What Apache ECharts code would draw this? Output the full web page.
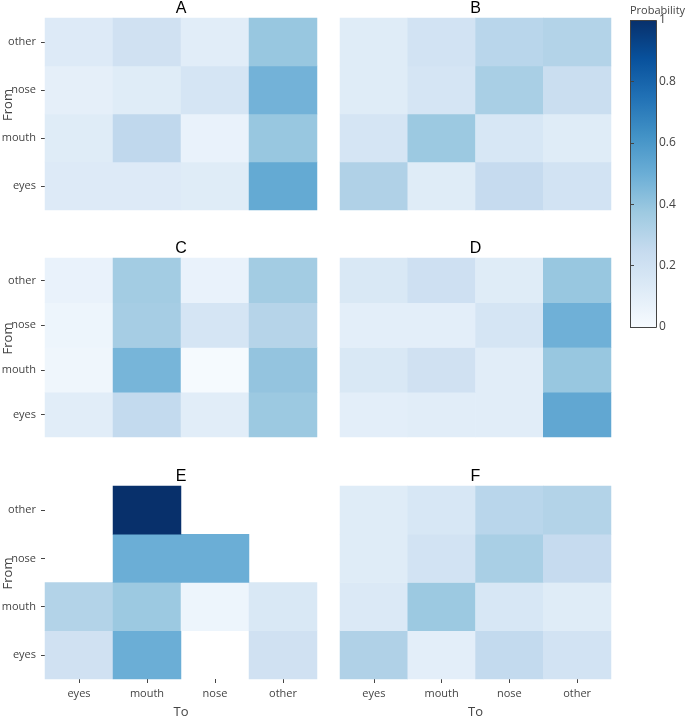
<!DOCTYPE html>
<html>
<head>
<meta charset="utf-8">
<script src="https://cdn.jsdelivr.net/npm/echarts@6/dist/echarts.min.js"></script>
<style>html,body{margin:0;padding:0;background:#fff}#c{width:685px;height:718px}</style>
</head>
<body>
<div id="c"></div>
<script>
// Categories
const toCats = ['eyes', 'mouth', 'nose', 'other'];
const fromCats = ['eyes', 'mouth', 'nose', 'other'];
const panelNames = ['A', 'B', 'C', 'D', 'E', 'F'];
const colorTicks = [0, 0.2, 0.4, 0.6, 0.8, 1];

// Rows = From (eyes, mouth, nose, other); columns = To (eyes, mouth, nose, other)
const panelA = [
  [0.13, 0.13, 0.12, 0.52],
  [0.12, 0.27, 0.07, 0.39],
  [0.09, 0.12, 0.17, 0.48],
  [0.13, 0.20, 0.11, 0.39]
];
const panelB = [
  [0.32, 0.12, 0.25, 0.19],
  [0.17, 0.38, 0.16, 0.12],
  [0.12, 0.17, 0.34, 0.23],
  [0.12, 0.19, 0.29, 0.31]
];
const panelC = [
  [0.11, 0.26, 0.11, 0.38],
  [0.04, 0.47, 0.01, 0.40],
  [0.05, 0.35, 0.17, 0.30],
  [0.07, 0.36, 0.07, 0.36]
];
const panelD = [
  [0.10, 0.11, 0.11, 0.53],
  [0.15, 0.20, 0.11, 0.39],
  [0.10, 0.10, 0.17, 0.49],
  [0.15, 0.21, 0.12, 0.39]
];
const panelE = [
  [0.20, 0.50, null, 0.20],
  [0.31, 0.38, 0.05, 0.15],
  [null, 0.50, 0.50, null],
  [null, 1.00, null, null]
];
const panelF = [
  [0.32, 0.10, 0.26, 0.19],
  [0.14, 0.38, 0.16, 0.12],
  [0.12, 0.19, 0.34, 0.25],
  [0.12, 0.16, 0.29, 0.31]
];
const panels = [panelA, panelB, panelC, panelD, panelE, panelF];

const blues = ['#f7fbff', '#deebf7', '#c6dbef', '#9ecae1', '#6baed6', '#4292c6', '#2171b5', '#08519c', '#08306b'];

const grids = [
  {left: 45, top: 18, width: 272, height: 192},
  {left: 340, top: 18, width: 271, height: 192},
  {left: 45, top: 258, width: 272, height: 179},
  {left: 340, top: 258, width: 271, height: 179},
  {left: 45, top: 486, width: 272, height: 193},
  {left: 340, top: 486, width: 271, height: 193},
  {left: 630, top: 20, width: 26, height: 307}
].map(g => Object.assign({containLabel: false, outerBoundsMode: 'none'}, g));

const tickFont = {fontFamily: 'Open Sans', fontSize: 11, color: '#444'};
const nameFont = {fontFamily: 'Open Sans', fontSize: 13, color: '#444'};
const xAxes = [], yAxes = [], series = [], titles = [];
for (let p = 0; p < 6; p++) {
  const bottom = p >= 4;
  const leftCol = p % 2 === 0;
  xAxes.push({
    type: 'category', gridIndex: p, data: toCats,
    name: bottom ? 'To' : '', nameLocation: 'middle', nameGap: 27, nameMoveOverlap: false,
    nameTextStyle: nameFont,
    axisLine: {show: false},
    axisTick: {show: bottom, length: 4, alignWithLabel: true, lineStyle: {color: '#444'}},
    axisLabel: Object.assign({show: bottom, margin: 9}, tickFont),
    splitLine: {show: false}
  });
  yAxes.push({
    type: 'category', gridIndex: p, data: fromCats,
    name: leftCol ? 'From' : '', nameLocation: 'middle', nameGap: 30, nameMoveOverlap: false,
    nameTextStyle: Object.assign({padding: [0, 0, 0, 18]}, nameFont),
    axisLine: {show: false},
    axisTick: {show: leftCol, length: 4, alignWithLabel: true, lineStyle: {color: '#444'}},
    axisLabel: Object.assign({show: leftCol, margin: 9}, tickFont),
    splitLine: {show: false}
  });
  const data = [];
  panels[p].forEach((row, i) => row.forEach((v, j) => {
    if (v !== null) data.push([j, i, v]);
  }));
  series.push({
    type: 'heatmap', xAxisIndex: p, yAxisIndex: p, data: data,
    itemStyle: {borderWidth: 0}, emphasis: {disabled: true}, silent: true
  });
  const g = grids[p];
  titles.push({
    text: panelNames[p], left: g.left + g.width / 2, top: g.top - 17, textAlign: 'center', padding: 0,
    textStyle: {fontFamily: 'Liberation Sans', fontSize: 16, fontWeight: 'normal', color: '#000'}
  });
}
// colorbar axis
xAxes.push({type: 'value', gridIndex: 6, show: false, min: 0, max: 1});
yAxes.push({
  type: 'value', gridIndex: 6, position: 'right', min: 0, max: 1, interval: 0.2,
  axisLine: {show: false},
  axisTick: {show: true, length: 4, lineStyle: {color: '#444'}},
  axisLabel: Object.assign({margin: 3, formatter: v => String(Math.round(v * 10) / 10)}, tickFont, {fontSize: 12}),
  splitLine: {show: false}
});
series.push({type: 'line', xAxisIndex: 6, yAxisIndex: 6, data: [], silent: true});

const chart = echarts.init(document.getElementById('c'), null, {renderer: 'canvas'});
chart.setOption({
  animation: false,
  backgroundColor: '#fff',
  title: titles,
  grid: grids,
  xAxis: xAxes,
  yAxis: yAxes,
  visualMap: {
    show: false, type: 'continuous', min: 0, max: 1, seriesIndex: [0, 1, 2, 3, 4, 5],
    inRange: {color: blues}
  },
  series: series,
  graphic: [
    {
      type: 'rect', left: 630, top: 20, z: -1,
      shape: {width: 26, height: 307},
      style: {
        fill: {
          type: 'linear', x: 0, y: 1, x2: 0, y2: 0,
          colorStops: blues.map((c, i) => ({offset: i / (blues.length - 1), color: c}))
        },
        stroke: '#444', lineWidth: 1
      }
    },
    {
      type: 'text', left: 630, top: 5,
      style: {text: 'Probability', fontFamily: 'Open Sans', fontSize: 11, fill: '#444'}
    }
  ]
});
</script>
</body>
</html>
